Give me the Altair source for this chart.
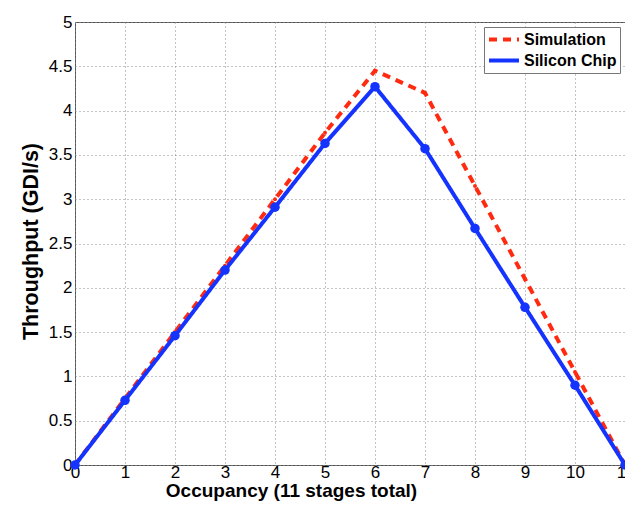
import altair as alt
import pandas as pd

occupancy = list(range(12))
simulation = [0, 0.75, 1.5, 2.25, 3.0, 3.75, 4.45, 4.2, 3.15, 2.1, 1.05, 0]
silicon = [0, 0.73, 1.46, 2.2, 2.91, 3.63, 4.27, 3.57, 2.67, 1.78, 0.90, 0]
series_names = ["Simulation", "Silicon Chip"]
x_ticks = list(range(12))
y_ticks = [0, 0.5, 1, 1.5, 2, 2.5, 3, 3.5, 4, 4.5, 5]

rows = []
for o, v in zip(occupancy, simulation):
    rows.append({"occ": o, "val": v, "series": "Simulation"})
for o, v in zip(occupancy, silicon):
    rows.append({"occ": o, "val": v, "series": "Silicon Chip"})
df = pd.DataFrame(rows)

RED = "#ff2a10"
BLUE = "#1433ff"
FONT = "Liberation Sans"

xenc = alt.X("occ:Q", scale=alt.Scale(domain=[0, 11], nice=False),
             axis=alt.Axis(values=x_ticks, title="Occupancy (11 stages total)",
                           titleX=216, titlePadding=1, labelPadding=-1,
                           labelFlush=False, titleFontSize=19))
yenc = alt.Y("val:Q", scale=alt.Scale(domain=[0, 5], nice=False),
             axis=alt.Axis(values=y_ticks, format="~g", title="Throughput (GDI/s)",
                           titlePadding=6, labelPadding=3, titleFontSize=21.5,
                           titleY=219, labelFlush=False))

color_scale = alt.Scale(domain=series_names, range=[RED, BLUE])

lines = alt.Chart(df).mark_line(strokeWidth=4).encode(
    x=xenc, y=yenc,
    color=alt.Color("series:N", scale=color_scale, title=None,
                    legend=alt.Legend(orient="none", legendX=409, legendY=5,
                                      strokeColor="#777", fillColor="white",
                                      padding=3, symbolType="stroke",
                                      symbolSize=900, symbolStrokeWidth=4,
                                      clipHeight=19,
                                      labelFont=FONT, labelFontSize=16,
                                      labelFontWeight="bold", labelColor="black",
                                      labelOffset=3, rowPadding=2)),
    strokeDash=alt.StrokeDash("series:N",
                              scale=alt.Scale(domain=series_names, range=[[8, 6], [1, 0]]),
                              title=None),
    order="occ:Q",
)

pts_sim = alt.Chart(df).transform_filter(alt.datum.series == "Simulation").mark_circle(
    size=16, opacity=1, color=RED).encode(x="occ:Q", y="val:Q")
pts_chip = alt.Chart(df).transform_filter(alt.datum.series == "Silicon Chip").mark_circle(
    size=90, opacity=1, color=BLUE).encode(x="occ:Q", y="val:Q")

chart = alt.layer(lines, pts_sim, pts_chip).properties(
    width=550, height=443,
    autosize=alt.AutoSizeParams(type="none"),
    padding={"left": 67, "top": 14, "right": 0, "bottom": 39},
    background="white",
).configure_view(
    stroke="#555", strokeWidth=1, fill="white"
).configure_axis(
    grid=True, gridColor="#888", gridDash=[1, 3], gridWidth=1,
    domain=False, ticks=False,
    labelFont=FONT, labelFontSize=17, labelColor="black",
    titleFont=FONT, titleFontWeight="bold", titleColor="black",
)

chart.save("out.html", embed_options={"renderer": "svg", "actions": False})
